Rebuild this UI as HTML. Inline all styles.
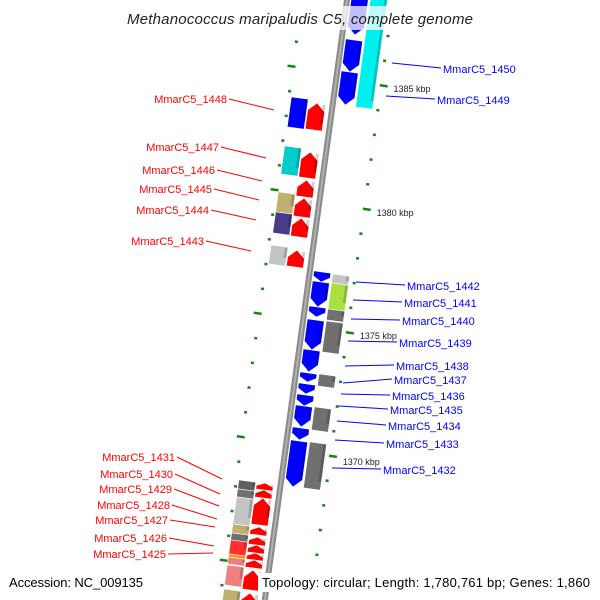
<!DOCTYPE html>
<html><head><meta charset="utf-8"><style>
html,body{margin:0;padding:0;background:#fff;}
svg{display:block;font-family:"Liberation Sans",sans-serif;}
</style></head><body>
<svg id="map" width="600" height="600" viewBox="0 0 600 600">
<g id="rot" transform="translate(347,0) rotate(7.8)">
 <rect x="-3" y="-20" width="6" height="640" fill="#8a8a8a"/>
 <rect x="-1" y="-20" width="2" height="640" fill="#b0b0b0"/>
</g>
<g id="kbp"></g>
<rect x="120" y="6" width="360" height="24" fill="#fff" opacity="0.75"/>
<text x="300" y="24" text-anchor="middle" font-size="15" font-style="italic" fill="#222" textLength="346">Methanococcus maripaludis C5, complete genome</text>
<g id="labels"></g>
<text x="9" y="587" font-size="13" fill="#000" textLength="134">Accession: NC_009135</text>
<rect x="258" y="573" width="336" height="19" fill="#fff"/>
<text x="262" y="587" font-size="13" fill="#000" textLength="328">Topology: circular; Length: 1,780,761 bp; Genes: 1,860</text>
</svg>
<script>
// gene data (track positions along backbone, px)
const geneStart=[-10,40,72,-10,98,103,147,152,180,198,218,193,213,246,250,
 272,282,307,320,350,373,384,395,406,428,441,
 275,284,310,322,375,408,443,
 481,490,498,525,534,541,555,558,566,590,
 483,490,498,527,537,545,553,560,570,593];
const geneEnd=[35,72,105,108,128,130,175,178,197,217,237,213,234,265,267,
 282,307,317,350,372,382,394,406,427,440,487,
 285,310,321,353,387,431,489,
 490,498,525,534,542,555,558,565,586,610,
 490,498,525,535,545,553,560,568,590,610];
const geneLane=['R1','R1','R1','R2','L2','L1','L2','L1','L1','L1','L1','L2','L2','L2','L1',
 'R1','R1','R1','R1','R1','R1','R1','R1','R1','R1','R1',
 'R2','R2','R2','R2','R2','R2','R2',
 'L2','L2','L2','L2','L2','L2','L2','L2','L2','L2',
 'L1','L1','L1','L1','L1','L1','L1','L1','L1','L1'];
const geneColor=['#0000ff','#0000ff','#0000ff','#00f0f0','#0000ff','#ff0000','#00cccc','#ff0000','#ff0000','#ff0000','#ff0000','#c0b070','#4a3a8a','#c4c4c4','#ff0000',
 '#0000ff','#0000ff','#0000ff','#0000ff','#0000ff','#0000ff','#0000ff','#0000ff','#0000ff','#0000ff','#0000ff',
 '#c4c4c4','#a8e040','#707070','#707070','#707070','#707070','#707070',
 '#606060','#707070','#c4c4c4','#c0b070','#707070','#ff3030','#ff8c00','#f08080','#f08080','#c0b070',
 '#ff0000','#ff0000','#ff0000','#ff0000','#ff0000','#ff0000','#ff0000','#ff0000','#ff0000','#ff0000'];
const geneDir=['down','down','down','none','none','up','none','up','up','up','up','none','none','none','up',
 'down','down','down','down','down','down','down','down','down','down','down',
 'none','none','none','none','none','none','none',
 'none','none','none','none','none','none','none','none','none','none',
 'up','up','up','up','up','up','up','up','up','up'];
const laneU={R1:[4,21],R2:[23,40],L1:[-24,-7],L2:[-42,-25]};
const kbpLabels=['1385 kbp','1380 kbp','1375 kbp','1370 kbp'];
const kbpPos=[85,209,332,458];
const rightLabels=['MmarC5_1450','MmarC5_1449','MmarC5_1442','MmarC5_1441','MmarC5_1440','MmarC5_1439','MmarC5_1438','MmarC5_1437','MmarC5_1436','MmarC5_1435','MmarC5_1434','MmarC5_1433','MmarC5_1432'];
const rightLabelX=[443,437,407,404,402,399,396,394,392,390,388,386,383];
const rightLabelY=[72,103,289,306,324,346,369,383,399,413,429,447,473];
const rightLineY=[63,96,282,300,319,341,366,383,394,406,421,440,468];
const leftLabels=['MmarC5_1448','MmarC5_1447','MmarC5_1446','MmarC5_1445','MmarC5_1444','MmarC5_1443','MmarC5_1431','MmarC5_1430','MmarC5_1429','MmarC5_1428','MmarC5_1427','MmarC5_1426','MmarC5_1425'];
const leftLabelX=[227,219,215,212,209,204,175,173,172,170,168,167,166];
const leftLabelY=[100,148,171,190,211,242,458,475,490,506,521,539,555];
const leftLineY=[110,158,181,200,220,251,479,494,506,519,527,546,553];

const NS='http://www.w3.org/2000/svg';
const rot=document.getElementById('rot');
// convert a screen-y position to local track coordinate for lateral offset u
function yScale(v,u){return (v-(u||0)*0.1357)/0.9907;}
// ticks
for(let k=-1;k<26;k++){
  const y=66+24.7*k; if(y<30||y>610) continue;
  const t=document.createElementNS(NS,'rect');
  const long=(k%5===0);
  t.setAttribute('x',long?-50:-46);t.setAttribute('y',yScale(y,-46)-1);t.setAttribute('width',long?8:3);t.setAttribute('height',2.5);t.setAttribute('fill','#118811');
  
  
  rot.appendChild(t);
}
for(let k=-3;k<24;k++){
  const y=85+24.7*k; if(y<30||y>610) continue;
  const t=document.createElementNS(NS,'rect');
  const long=(k%5===0);
  t.setAttribute('x',44);t.setAttribute('y',yScale(y,44)-1);t.setAttribute('width',long?8:3);t.setAttribute('height',2.5);t.setAttribute('fill','#118811');
  
  
  rot.appendChild(t);
}
const kg=document.getElementById('kbp');
kbpLabels.forEach((s,i)=>{
  const t=document.createElementNS(NS,'text');
  const y=kbpPos[i];
  t.setAttribute('x',405-0.136*y);t.setAttribute('y',y+7);t.setAttribute('font-size','9');t.setAttribute('fill','#222');
  t.textContent=s;
  
  
  kg.appendChild(t);
});
// genes
for(let i=0;i<geneStart.length;i++){
  const [u0,u1]=laneU[geneLane[i]];
  const mid=(u0+u1)/2;
  const y0=yScale(geneStart[i],mid), y1=yScale(geneEnd[i],mid);
  const h=Math.min(8,(y1-y0)/2);
  let pts;
  if(geneDir[i]==='down') pts=[[u0,y0],[u1,y0],[u1,y1-h],[mid,y1],[u0,y1-h]];
  else if(geneDir[i]==='up') pts=[[mid,y0],[u1,y0+h],[u1,y1],[u0,y1],[u0,y0+h]];
  else pts=[[u0,y0],[u1,y0],[u1,y1],[u0,y1]];
  const p=document.createElementNS(NS,'polygon');
  p.setAttribute('points',pts.map(q=>q.join(',')).join(' '));
  p.setAttribute('fill',geneColor[i]);
  p.setAttribute('stroke','#fff');p.setAttribute('stroke-width','0.6');
  
  
  rot.appendChild(p);
  const s=document.createElementNS(NS,'rect');
  s.setAttribute('x',u1-3);s.setAttribute('y',y0+1);s.setAttribute('width',3);s.setAttribute('height',Math.max(0,y1-y0-h-1));
  s.setAttribute('fill','#000');s.setAttribute('opacity','0.18');
  
  
  rot.appendChild(s);
}
// labels
const lg=document.getElementById('labels');
rightLabels.forEach((s,i)=>{
  const l=document.createElementNS(NS,'line');
  const yl=rightLineY[i];
  l.setAttribute('x1',rightLabelX[i]-51);l.setAttribute('y1',yl);l.setAttribute('x2',rightLabelX[i]-2);l.setAttribute('y2',rightLabelY[i]-4);
  l.setAttribute('stroke','#0000ff');l.setAttribute('stroke-width','1');
  
  
  lg.appendChild(l);
  const t=document.createElementNS(NS,'text');
  t.setAttribute('x',rightLabelX[i]);t.setAttribute('y',rightLabelY[i]+1);t.setAttribute('font-size','11');t.setAttribute('fill','#0000ff');
  t.textContent=s;
  
  
  lg.appendChild(t);
});
leftLabels.forEach((s,i)=>{
  const l=document.createElementNS(NS,'line');
  l.setAttribute('x1',leftLabelX[i]+2);l.setAttribute('y1',leftLabelY[i]-1);l.setAttribute('x2',leftLabelX[i]+47);l.setAttribute('y2',leftLineY[i]);
  l.setAttribute('stroke','#ff0000');l.setAttribute('stroke-width','1');
  
  
  lg.appendChild(l);
  const t=document.createElementNS(NS,'text');
  t.setAttribute('x',leftLabelX[i]);t.setAttribute('y',leftLabelY[i]+3);t.setAttribute('font-size','11');t.setAttribute('fill','#ff0000');t.setAttribute('text-anchor','end');
  t.textContent=s;
  
  
  lg.appendChild(t);
});
</script>
</body></html>
